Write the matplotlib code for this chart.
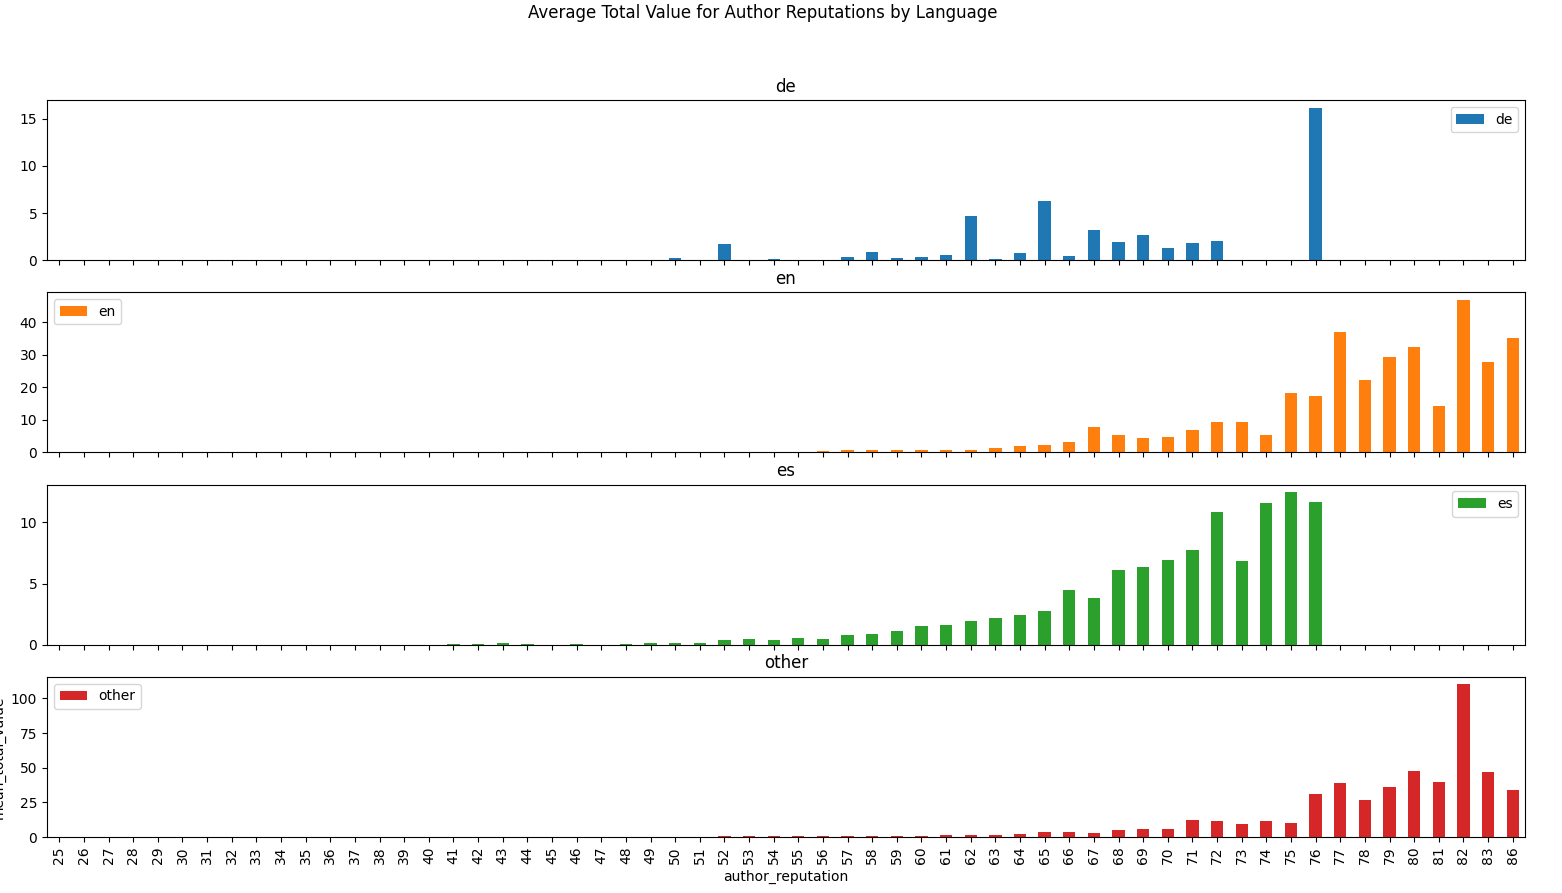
import matplotlib
matplotlib.use("Agg")
import matplotlib.pyplot as plt
import numpy as np

categories = list(range(25, 84)) + [86]

de_vals = {50: 0.2, 52: 1.7, 54: 0.1, 57: 0.3, 58: 0.85, 59: 0.2, 60: 0.3, 61: 0.53,
           62: 4.65, 63: 0.1, 64: 0.74, 65: 6.23, 66: 0.42, 67: 3.17, 68: 1.9,
           69: 2.64, 70: 1.27, 71: 1.8, 72: 2.0, 76: 16.16}
en_vals = {52: 0.3, 53: 0.3, 54: 0.3, 55: 0.3, 56: 0.6, 57: 0.9, 58: 0.9, 59: 0.9,
           60: 0.9, 61: 0.9, 62: 0.9, 63: 1.5, 64: 1.85, 65: 2.15, 66: 3.1, 67: 7.7,
           68: 5.5, 69: 4.3, 70: 4.9, 71: 6.8, 72: 9.5, 73: 9.2, 74: 5.5, 75: 18.2,
           76: 17.2, 77: 36.9, 78: 22.2, 79: 29.2, 80: 32.3, 81: 14.2, 82: 46.8,
           83: 27.7, 86: 35.1}
es_vals = {41: 0.08, 42: 0.08, 43: 0.16, 44: 0.08, 46: 0.08, 48: 0.08, 49: 0.16,
           50: 0.16, 51: 0.16, 52: 0.41, 53: 0.49, 54: 0.41, 55: 0.57, 56: 0.49,
           57: 0.82, 58: 0.9, 59: 1.15, 60: 1.56, 61: 1.64, 62: 1.97, 63: 2.21,
           64: 2.46, 65: 2.79, 66: 4.43, 67: 3.85, 68: 6.07, 69: 6.31, 70: 6.89,
           71: 7.7, 72: 10.82, 73: 6.8, 74: 11.56, 75: 12.46, 76: 11.64}
other_vals = {52: 0.7, 53: 0.7, 54: 0.7, 55: 0.7, 56: 0.7, 57: 0.7, 58: 0.7, 59: 0.7,
              60: 0.7, 61: 1.4, 62: 1.4, 63: 1.4, 64: 2.2, 65: 3.6, 66: 3.6, 67: 2.9,
              68: 5.0, 69: 5.8, 70: 5.8, 71: 12.2, 72: 11.5, 73: 9.4, 74: 11.5,
              75: 10.1, 76: 30.9, 77: 38.8, 78: 26.6, 79: 36.0, 80: 47.5, 81: 39.6,
              82: 110.1, 83: 46.8, 86: 33.8}

series = [("de", de_vals, "#1f77b4", "upper right"),
          ("en", en_vals, "#ff7f0e", "upper left"),
          ("es", es_vals, "#2ca02c", "upper right"),
          ("other", other_vals, "#d62728", "upper left")]

fig, axes = plt.subplots(4, 1, figsize=(15.62, 8.93), dpi=100, sharex=True)
fig.subplots_adjust(left=0.0301, right=0.9763, top=0.888, bottom=0.0627, hspace=0.2)

x = np.arange(len(categories))
for ax, (name, vals, color, loc) in zip(axes, series):
    heights = [vals.get(c, 0.0) for c in categories]
    ax.bar(x, heights, width=0.5, color=color, label=name)
    ax.set_title(name)
    ax.legend(loc=loc)
    ax.set_xlim(-0.5, len(categories) - 0.5)

axes[-1].set_xticks(x)
axes[-1].set_xticklabels([str(c) for c in categories], rotation=90)
axes[-1].set_xlabel("author_reputation")
axes[-1].set_ylabel("mean_total_value")
for ax in axes[:-1]:
    ax.tick_params(labelbottom=False)

fig.suptitle("Average Total Value for Author Reputations by Language",
             x=0.488, y=0.996, va="top")
fig.savefig("out.png", dpi=100)
